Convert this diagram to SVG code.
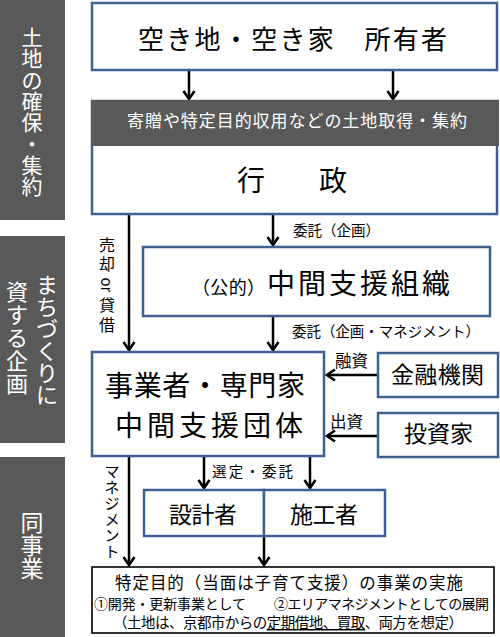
<svg xmlns="http://www.w3.org/2000/svg" width="500" height="637" viewBox="0 0 500 637">
<style>
  text { font-family: "Noto Sans CJK JP", "Noto Sans", sans-serif; fill: #000; }
  .side { fill: #595959; }
  .sidetxt { fill: #fff; font-size: 21px; text-anchor: middle; }
  .box { fill: #fff; stroke: #3C6190; stroke-width: 2.5; }
  .bbox { fill: #fff; stroke: #000; stroke-width: 1.6; }
  .band { fill: #595959; }
  .c { text-anchor: middle; }
  .arr { stroke: #000; stroke-width: 2.5; fill: none; marker-end: url(#ah); }
  .lbl { font-size: 14.5px; }
</style>
<defs>
  <marker id="ah" markerUnits="userSpaceOnUse" viewBox="-11 -7 13 14" refX="0" refY="0" markerWidth="13" markerHeight="14" orient="auto">
    <path d="M-8,-5.5 L0,0 L-8,5.5" fill="none" stroke="#000" stroke-width="2.6"/>
  </marker>
</defs>

<g id="sidebar-1">
  <rect class="side" x="0" y="0" width="65" height="220"/>
  <text class="sidetxt" x="32" y="45"><tspan x="32">土</tspan><tspan x="32" dy="21.3">地</tspan><tspan x="32" dy="21.3">の</tspan><tspan x="32" dy="21.3">確</tspan><tspan x="32" dy="21.3">保</tspan><tspan x="32" dy="21.3">・</tspan><tspan x="32" dy="21.3">集</tspan><tspan x="32" dy="21.3">約</tspan></text>
</g>
<g id="sidebar-2">
  <rect class="side" x="0" y="236" width="65" height="207"/>
  <text class="sidetxt" x="47" y="293" style="font-size:22px"><tspan x="47">ま</tspan><tspan x="47" dy="22">ち</tspan><tspan x="47" dy="22">づ</tspan><tspan x="47" dy="22">く</tspan><tspan x="47" dy="22">り</tspan><tspan x="47" dy="22">に</tspan></text>
  <text class="sidetxt" x="17" y="300" style="font-size:22px"><tspan x="17">資</tspan><tspan x="17" dy="23">す</tspan><tspan x="17" dy="23">る</tspan><tspan x="17" dy="23">企</tspan><tspan x="17" dy="23">画</tspan></text>
</g>
<g id="sidebar-3">
  <rect class="side" x="0" y="457" width="65" height="180"/>
  <text class="sidetxt" x="32" y="531" style="font-size:23px"><tspan x="32">同</tspan><tspan x="32" dy="23">事</tspan><tspan x="32" dy="23">業</tspan></text>
</g>

<g id="connectors">
  <line class="arr" x1="189" y1="71" x2="189" y2="99"/>
  <line class="arr" x1="393" y1="71" x2="393" y2="99"/>
  <line class="arr" x1="129" y1="215" x2="129" y2="350"/>
  <line class="arr" x1="273" y1="215" x2="273" y2="245"/>
  <line class="arr" x1="273" y1="317" x2="273" y2="350"/>
  <line class="arr" x1="378" y1="375" x2="327" y2="375"/>
  <line class="arr" x1="378" y1="436" x2="327" y2="436"/>
  <line class="arr" x1="204" y1="457" x2="204" y2="488"/>
  <line class="arr" x1="310" y1="457" x2="310" y2="488"/>
  <line class="arr" x1="129" y1="457" x2="129" y2="565"/>
  <line class="arr" x1="264" y1="537" x2="264" y2="565"/>
  <text class="lbl" x="293" y="236" textLength="87">委託（企画）</text>
  <text class="lbl" x="292" y="337" textLength="188">委託（企画・マネジメント）</text>
  <text x="335" y="367" style="font-size:16.5px">融資</text>
  <text x="330" y="428" style="font-size:16.5px">出資</text>
  <text class="lbl" x="212" y="477" textLength="81">選定・委託</text>
  <text class="lbl c" x="107" y="251" style="font-size:16px"><tspan x="107">売</tspan><tspan x="107" dy="19">却</tspan></text>
  <text class="lbl c" x="107" y="285" transform="rotate(90 107 285)" dominant-baseline="central" style="font-size:15px">or</text>
  <text class="lbl c" x="107" y="311" style="font-size:16px"><tspan x="107">貸</tspan><tspan x="107" dy="20">借</tspan></text>
  <text class="lbl c" x="112" y="477" style="font-size:15px"><tspan x="112">マ</tspan><tspan x="112" dy="16">ネ</tspan><tspan x="112" dy="16">ジ</tspan><tspan x="112" dy="16">メ</tspan><tspan x="112" dy="16">ン</tspan><tspan x="112" dy="16">ト</tspan></text>
</g>

<g id="owner">
  <rect class="box" x="92" y="3" width="405" height="67"/>
  <text class="c" x="292.5" y="49" style="font-size:26px" textLength="309">空き地・空き家　所有者</text>
</g>
<g id="gyosei">
  <rect class="box" x="92" y="101" width="405" height="113"/>
  <rect class="band" x="91" y="100" width="408" height="46"/>
  <text class="c" x="297" y="127" style="font-size:17px;fill:#fff" textLength="340">寄贈や特定目的収用などの土地取得・集約</text>
  <text class="c" x="292" y="191" style="font-size:28px" textLength="110">行　　政</text>
</g>
<g id="chukan-shien-soshiki">
  <rect class="box" x="143" y="247" width="347" height="69"/>
  <text x="192" y="294" style="font-size:18px" textLength="73">（公的）</text>
  <text x="267" y="294" style="font-size:28px" textLength="183">中間支援組織</text>
</g>
<g id="jigyosha">
  <rect class="box" x="92" y="352" width="232" height="104"/>
  <text class="c" x="205" y="396" style="font-size:28px" textLength="200">事業者・専門家</text>
  <text class="c" x="209" y="436" style="font-size:28px" textLength="188">中間支援団体</text>
</g>
<g id="kinyu">
  <rect class="box" x="378" y="353" width="120" height="44"/>
  <text class="c" x="437.5" y="383" style="font-size:23px" textLength="93">金融機関</text>
</g>
<g id="toshika">
  <rect class="box" x="378" y="413" width="120" height="44"/>
  <text class="c" x="438.5" y="442" style="font-size:23px" textLength="69">投資家</text>
</g>
<g id="sekkeisha">
  <rect class="box" x="144" y="490" width="120" height="46"/>
  <text class="c" x="203" y="523" style="font-size:23px" textLength="68">設計者</text>
</g>
<g id="sekosha">
  <rect class="box" x="264" y="490" width="121" height="46"/>
  <text class="c" x="324" y="523" style="font-size:23px" textLength="68">施工者</text>
</g>
<g id="jisshi">
  <rect class="bbox" x="92" y="567" width="402" height="66"/>
  <text class="c" x="289" y="589" style="font-size:16.5px" textLength="348">特定目的（当面は子育て支援）の事業の実施</text>
  <text x="94" y="609" style="font-size:14px" textLength="152">①開発・更新事業として</text>
  <text x="274" y="609" style="font-size:14px" textLength="215">②エリアマネジメントとしての展開</text>
  <text x="113" y="628" style="font-size:14.5px" textLength="350">（土地は、京都市からの<tspan text-decoration="underline">定期借地、買取</tspan>、両方を想定）</text>
</g>
</svg>
